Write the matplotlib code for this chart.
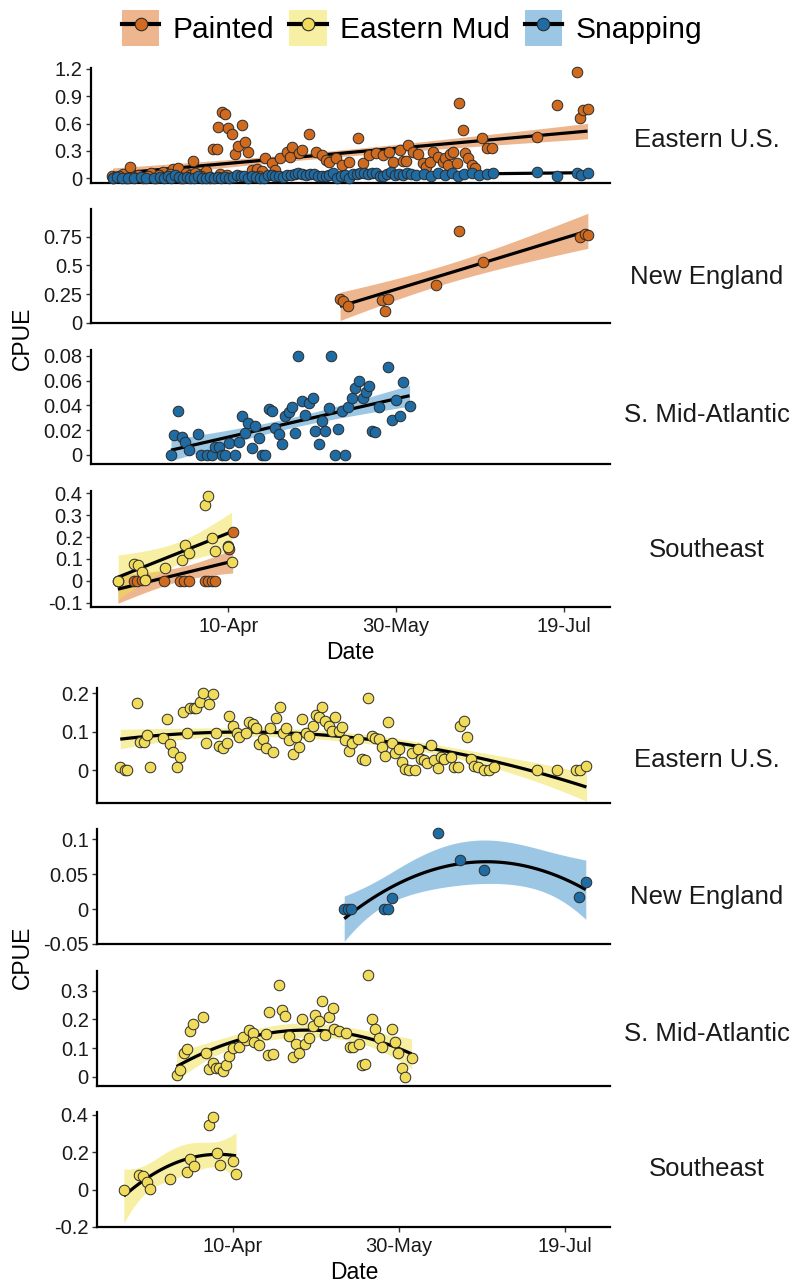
import numpy as np
import matplotlib
matplotlib.use("Agg")
import matplotlib.pyplot as plt
from matplotlib.patches import Patch
from matplotlib.lines import Line2D

plt.rcParams['font.family'] = ['Liberation Sans', 'DejaVu Sans']
plt.rcParams['axes.unicode_minus'] = False

# ---- data (day of year; 10-Apr = 100) ----
species = ['Painted', 'Eastern Mud', 'Snapping']
date_ticks = [100, 150, 200]
date_labels = ['10-Apr', '30-May', '19-Jul']

eus_painted_day = [65.5, 68.5, 70.8, 73.0, 77.0, 80.5, 83.5, 85.0, 87.5, 89.6,
                   91.0, 93.5, 95.5, 96.7, 96.9, 98.0, 99.0, 100.0, 101.0, 102.0,
                   103.0, 104.0, 105.0, 106.0, 107.0, 108.5, 110.0, 111.0, 113.0, 114.0,
                   115.5, 117.5, 118.5, 119.0, 121.0, 122.0, 124.0, 126.0, 128.0, 129.0,
                   130.0, 132.0, 134.0, 136.0, 138.7, 140.0, 142.0, 144.0, 146.0, 148.0,
                   149.0, 151.0, 152.0, 153.0, 153.6, 155.0, 156.5, 158.0, 159.0, 160.0,
                   161.0, 162.5, 164.0, 164.6, 165.5, 166.0, 167.0, 168.0, 168.8, 170.0,
                   170.5, 171.4, 172.6, 173.5, 175.6, 177.0, 178.6, 192.0, 198.0, 204.0,
                   204.8, 205.7, 207.0,
                   65.6, 66.2, 67.5, 69.5, 71.5, 74.5, 76.0, 78.5, 79.5, 81.5,
                   82.5, 84.5, 86.0, 88.5, 90.0, 92.0, 94.5, 97.5, 99.5, 109.0]
eus_painted_cpue = [0.02, 0.04, 0.12, 0.03, 0.05, 0.07, 0.10, 0.11, 0.06, 0.19,
                    0.04, 0.08, 0.32, 0.32, 0.56, 0.73, 0.70, 0.55, 0.48, 0.26,
                    0.35, 0.58, 0.40, 0.29, 0.09, 0.10, 0.08, 0.22, 0.17, 0.09,
                    0.22, 0.29, 0.23, 0.34, 0.28, 0.31, 0.48, 0.29, 0.25, 0.20,
                    0.18, 0.22, 0.14, 0.18, 0.44, 0.17, 0.25, 0.28, 0.25, 0.29,
                    0.18, 0.31, 0.19, 0.19, 0.36, 0.29, 0.26, 0.17, 0.12, 0.18,
                    0.29, 0.23, 0.18, 0.22, 0.14, 0.26, 0.29, 0.17, 0.83, 0.53,
                    0.28, 0.22, 0.14, 0.11, 0.44, 0.33, 0.33, 0.45, 0.80, 1.17,
                    0.66, 0.75, 0.76,
                    0.0, 0.01, 0.02, 0.0, 0.01, 0.0, 0.02, 0.0, 0.03, 0.01,
                    0.04, 0.02, 0.0, 0.03, 0.05, 0.02, 0.0, 0.04, 0.03, 0.02]

eus_snap_day = [65.8, 66.9, 68.3, 70.1, 72.0, 74.1, 75.4, 78.0, 79.6, 80.8,
                82.1, 83.0, 84.2, 85.3, 86.4, 87.6, 88.7, 89.9, 91.0, 92.2,
                93.3, 94.5, 95.6, 96.8, 97.9, 99.1, 100.2, 101.4, 102.5, 103.7,
                104.8, 106.0, 107.1, 108.3, 109.4, 110.6, 111.7, 112.9, 114.0, 115.2,
                116.3, 117.5, 118.6, 119.8, 120.9, 122.1, 123.2, 124.4, 125.5, 126.7,
                127.8, 129.0, 130.1, 131.3, 132.4, 133.6, 134.7, 135.9, 137.0, 138.2,
                139.3, 140.5, 141.6, 142.8, 143.9, 145.1, 146.2, 147.4, 148.5, 149.7,
                150.8, 152.0, 153.1, 154.3, 156.0, 158.2, 160.5, 162.4, 164.6, 166.5,
                168.4, 170.2, 172.5, 174.8, 177.0, 178.8, 192.0, 198.0, 204.0, 205.2,
                207.0]
eus_snap_cpue = [0.0, 0.01, 0.0, 0.005, 0.0, 0.01, 0.0, 0.0, 0.015, 0.0,
                 0.02, 0.0, 0.035, 0.01, 0.0, 0.015, 0.005, 0.0, 0.02, 0.0,
                 0.0, 0.01, 0.0, 0.007, 0.0, 0.009, 0.0, 0.01, 0.03, 0.018,
                 0.026, 0.005, 0.024, 0.014, 0.0, 0.0, 0.037, 0.035, 0.021, 0.017,
                 0.009, 0.031, 0.035, 0.039, 0.05, 0.044, 0.032, 0.042, 0.046, 0.019,
                 0.027, 0.02, 0.038, 0.06, 0.0, 0.021, 0.036, 0.0, 0.039, 0.046,
                 0.054, 0.06, 0.046, 0.051, 0.056, 0.019, 0.018, 0.039, 0.065, 0.028,
                 0.044, 0.032, 0.059, 0.04, 0.03, 0.045, 0.02, 0.05, 0.035, 0.06,
                 0.025, 0.04, 0.055, 0.03, 0.045, 0.05, 0.065, 0.025, 0.06, 0.03,
                 0.05]

ne_painted_day = [133.3, 134.2, 135.7, 145.8, 146.7, 147.6, 162.0, 168.8, 175.9, 204.8, 206.2, 207.1]
ne_painted_cpue = [0.21, 0.19, 0.15, 0.20, 0.105, 0.21, 0.33, 0.80, 0.53, 0.75, 0.77, 0.76]

sma_snap_day = [82.9, 83.9, 85.0, 86.2, 87.2, 88.2, 91.0, 92.0, 93.7, 95.1,
                96.1, 97.1, 98.1, 99.1, 100.1, 102.1, 103.1, 104.1, 105.1, 106.0,
                107.0, 108.0, 109.0, 110.0, 111.0, 112.0, 113.0, 114.0, 115.0, 116.0,
                117.0, 118.0, 119.0, 119.9, 120.9, 121.9, 122.9, 123.9, 125.2, 125.9,
                126.9, 127.9, 128.9, 129.9, 130.7, 131.8, 132.8, 133.8, 134.8, 135.8,
                136.8, 137.8, 139.0, 140.0, 141.0, 141.8, 142.8, 143.8, 144.9, 147.7,
                148.9, 150.0, 151.0, 152.0, 154.0]
sma_snap_cpue = [0.0, 0.016, 0.0355, 0.0148, 0.0107, 0.004, 0.017, 0.0, 0.0, 0.0,
                 0.0067, 0.0067, 0.0, 0.0, 0.0094, 0.0, 0.0107, 0.031, 0.0175, 0.026,
                 0.0054, 0.0236, 0.0135, 0.0, 0.0, 0.037, 0.0355, 0.0215, 0.0167, 0.0086,
                 0.031, 0.035, 0.039, 0.018, 0.080, 0.0435, 0.032, 0.0417, 0.0457, 0.0193,
                 0.0089, 0.0274, 0.0193, 0.038, 0.080, 0.0, 0.0207, 0.0355, 0.0, 0.039,
                 0.046, 0.0537, 0.060, 0.0457, 0.051, 0.0558, 0.0193, 0.0183, 0.039, 0.0707,
                 0.028, 0.0443, 0.0317, 0.059, 0.0397]

se_painted_day = [67.1, 71.8, 72.8, 74.3, 75.3, 80.8, 85.7, 86.7, 88.2, 93.2, 94.1, 95.1, 96.1, 100.0, 100.3, 101.3]
se_painted_cpue = [0.0, 0.0, 0.0, 0.005, 0.01, 0.0, 0.0, 0.0, 0.0, 0.0, 0.0, 0.0, 0.0, 0.157, 0.145, 0.223]

se_mud_day = [67.2, 71.9, 73.1, 74.2, 75.2, 81.1, 86.1, 87.2, 88.2, 93.0, 94.1, 95.2, 96.1, 100.0, 101.0]
se_mud_cpue = [0.0, 0.078, 0.072, 0.042, 0.005, 0.058, 0.096, 0.163, 0.127, 0.345, 0.388, 0.196, 0.134, 0.153, 0.085]

eus_mud_day = [66.1, 67.4, 68.1, 71.1, 72.1, 73.4, 74.1, 75.2, 79.1, 80.1,
               81.1, 82.0, 83.1, 84.2, 84.9, 86.1, 87.0, 88.2, 89.0, 90.0,
               91.0, 92.0, 93.0, 94.1, 95.1, 96.0, 97.1, 98.2, 99.0, 100.0,
               101.2, 102.0, 104.0, 105.0, 106.0, 107.0, 108.0, 109.0, 110.1, 111.1,
               112.1, 113.1, 114.1, 115.1, 116.1, 117.1, 118.1, 119.1, 120.1, 120.9,
               122.1, 123.1, 124.1, 125.1, 126.1, 126.9, 127.9, 128.9, 129.9, 130.9,
               131.9, 132.9, 133.9, 134.9, 135.9, 137.9, 139.0, 140.0, 140.7, 142.0,
               143.0, 144.0, 145.0, 146.0, 146.7, 148.0, 149.0, 150.0, 151.0, 152.0,
               153.0, 154.0, 155.0, 155.7, 156.7, 157.7, 158.7, 159.8, 160.8, 161.8,
               162.8, 163.8, 165.8, 166.8, 167.8, 168.6, 169.6, 170.6, 171.8, 172.8,
               173.8, 175.8, 177.3, 178.8, 191.7, 197.6, 203.4, 204.7, 206.6]
eus_mud_cpue = [0.009, 0.0, 0.0, 0.174, 0.074, 0.074, 0.091, 0.007, 0.084, 0.132,
                0.068, 0.046, 0.007, 0.035, 0.15, 0.097, 0.162, 0.162, 0.162, 0.176,
                0.202, 0.07, 0.171, 0.197, 0.097, 0.063, 0.058, 0.071, 0.141, 0.115,
                0.097, 0.085, 0.097, 0.124, 0.119, 0.11, 0.067, 0.081, 0.058, 0.11,
                0.046, 0.135, 0.165, 0.097, 0.11, 0.078, 0.042, 0.087, 0.061, 0.132,
                0.096, 0.089, 0.115, 0.143, 0.139, 0.163, 0.128, 0.115, 0.102, 0.137,
                0.102, 0.113, 0.078, 0.05, 0.07, 0.081, 0.029, 0.026, 0.188, 0.089,
                0.084, 0.081, 0.059, 0.037, 0.126, 0.071, 0.045, 0.054, 0.022, 0.002,
                0.0, 0.045, 0.0, 0.054, 0.028, 0.026, 0.017, 0.065, 0.026, 0.004,
                0.035, 0.028, 0.035, 0.009, 0.009, 0.115, 0.129, 0.085, 0.03, 0.01,
                0.009, 0.0, 0.0, 0.007, 0.0, 0.0, 0.0, 0.0, 0.01]

ne_snap_day = [133.6, 134.6, 135.7, 145.7, 146.7, 147.9, 161.8, 168.6, 175.6, 204.4, 206.4]
ne_snap_cpue = [0.0, 0.0, 0.0, 0.0, 0.0, 0.0157, 0.1086, 0.0704, 0.056, 0.018, 0.0394]

sma_mud_day = [83.1, 84.2, 85.2, 86.1, 87.0, 88.0, 91.0, 92.0, 93.0, 94.0,
               95.0, 96.0, 97.0, 98.0, 99.0, 100.0, 102.0, 104.0, 103.0, 105.0,
               106.0, 106.5, 108.0, 110.0, 110.5, 112.0, 111.0, 113.9, 114.9, 115.9,
               117.1, 118.1, 119.1, 120.1, 120.9, 121.9, 122.9, 124.1, 124.9, 126.1,
               126.9, 127.9, 128.9, 130.1, 130.6, 132.1, 134.2, 135.2, 136.1, 138.0,
               139.0, 140.0, 140.7, 142.0, 143.0, 144.0, 145.0, 147.9, 149.0, 149.9,
               151.0, 152.0, 153.9]
sma_mud_cpue = [0.006, 0.023, 0.081, 0.095, 0.159, 0.183, 0.209, 0.084, 0.026, 0.047,
                0.029, 0.029, 0.02, 0.041, 0.072, 0.099, 0.105, 0.128, 0.14, 0.163,
                0.154, 0.122, 0.111, 0.149, 0.076, 0.079, 0.225, 0.32, 0.233, 0.212,
                0.142, 0.068, 0.114, 0.082, 0.2, 0.114, 0.134, 0.177, 0.215, 0.194,
                0.265, 0.145, 0.207, 0.239, 0.165, 0.159, 0.151, 0.102, 0.102, 0.114,
                0.041, 0.044, 0.355, 0.2, 0.165, 0.134, 0.102, 0.165, 0.122, 0.082,
                0.029, 0.0, 0.064]

# ---- styling ----
point_col = {'Painted': '#D06A1F', 'Eastern Mud': '#F0DC5A', 'Snapping': '#1F6CA4'}
band_col = {'Painted': '#DE6E1E', 'Eastern Mud': '#EFE04A', 'Snapping': '#3A90CB'}
band_alpha = 0.5

W, H = 794, 1282
fig = plt.figure(figsize=(W / 100, H / 100), dpi=100)


def box(left, right, top, bottom):
    return [left / W, 1 - bottom / H, (right - left) / W, (bottom - top) / H]


def t975(df):
    z = 1.959964
    return (z + (z**3 + z) / (4 * df) + (5 * z**5 + 16 * z**3 + 3 * z) / (96 * df**2)
            + (3 * z**7 + 19 * z**5 + 17 * z**3 - 15 * z) / (384 * df**3))


def smooth(ax, x, y, deg, sp):
    x = np.asarray(x, float)
    y = np.asarray(y, float)
    xc = x.mean()
    X = np.vander(x - xc, deg + 1)
    beta = np.linalg.lstsq(X, y, rcond=None)[0]
    n, p = X.shape
    r = y - X @ beta
    cov = (r @ r / (n - p)) * np.linalg.inv(X.T @ X)
    xs = np.linspace(x.min(), x.max(), 100)
    Xs = np.vander(xs - xc, deg + 1)
    fit = Xs @ beta
    se = np.sqrt(np.einsum('ij,jk,ik->i', Xs, cov, Xs))
    t = t975(n - p)
    ax.fill_between(xs, fit - t * se, fit + t * se, color=band_col[sp],
                    alpha=band_alpha, lw=0, zorder=1)
    ax.plot(xs, fit, color='black', lw=2.3, zorder=2, solid_capstyle='butt')


panels = [
    # (box px, ylim, yticks, groups, degree, facet label, label y px, x labels)
    ((91, 610, 68, 183), (-0.055, 1.211), [0, 0.3, 0.6, 0.9, 1.2],
     [('Painted', eus_painted_day, eus_painted_cpue), ('Snapping', eus_snap_day, eus_snap_cpue)],
     1, 'Eastern U.S.', 147, False),
    ((91, 610, 209, 323.5), (-0.005, 0.99), [0, 0.25, 0.5, 0.75],
     [('Painted', ne_painted_day, ne_painted_cpue)], 1, 'New England', 284, False),
    ((91, 610, 350, 464), (-0.0073, 0.0846), [0, 0.02, 0.04, 0.06, 0.08],
     [('Snapping', sma_snap_day, sma_snap_cpue)], 1, 'S. Mid-Atlantic', 422, False),
    ((91, 610, 491, 607), (-0.12, 0.4105), [-0.1, 0, 0.1, 0.2, 0.3, 0.4],
     [('Painted', se_painted_day, se_painted_cpue), ('Eastern Mud', se_mud_day, se_mud_cpue)],
     1, 'Southeast', 557, True),
    ((97, 610, 688, 803), (-0.086, 0.2138), [0, 0.1, 0.2],
     [('Eastern Mud', eus_mud_day, eus_mud_cpue)], 2, 'Eastern U.S.', 767, False),
    ((97, 610, 829, 944), (-0.05, 0.1147), [-0.05, 0, 0.05, 0.1],
     [('Snapping', ne_snap_day, ne_snap_cpue)], 2, 'New England', 904, False),
    ((97, 610, 971, 1086), (-0.0325, 0.3687), [0, 0.1, 0.2, 0.3],
     [('Eastern Mud', sma_mud_day, sma_mud_cpue)], 2, 'S. Mid-Atlantic', 1041, False),
    ((97, 610, 1112, 1227), (-0.2, 0.416), [-0.2, 0, 0.2, 0.4],
     [('Eastern Mud', se_mud_day, se_mud_cpue)], 2, 'Southeast', 1176, True),
]

for (l, r, t, b), ylim, yt, groups, deg, label, ly, showx in panels:
    ax = fig.add_axes(box(l, r, t, b))
    for sp, d, c in groups:
        smooth(ax, d, c, deg, sp)
    for sp, d, c in groups:
        ax.scatter(d, c, s=58, color=point_col[sp], edgecolors='#2b2b2b',
                   linewidths=0.7, zorder=3, clip_on=False)
    ax.set_xlim(59.1, 213.7)
    ax.set_ylim(*ylim)
    ax.set_yticks(yt)
    ax.set_yticklabels(['{:g}'.format(v) for v in yt])
    for s in ['top', 'right']:
        ax.spines[s].set_visible(False)
    for s in ['left', 'bottom']:
        ax.spines[s].set_linewidth(1.6)
        ax.spines[s].set_color('black')
    ax.tick_params(axis='y', length=3.5, width=1, color='#333333', pad=2.5,
                   labelsize=14.5, labelcolor='#1a1a1a')
    if showx:
        ax.set_xticks(date_ticks)
        ax.set_xticklabels(date_labels)
        ax.tick_params(axis='x', length=3.5, width=1, color='#333333', pad=4,
                       labelsize=14.5, labelcolor='#1a1a1a')
    else:
        ax.set_xticks([])
    ax.set_facecolor('none')
    fig.text(707 / W, 1 - ly / H, label, ha='center', va='baseline',
             fontsize=18.5, color='#1a1a1a')

# axis titles
fig.text(350 / W, 1 - 659 / H, 'Date', ha='center', va='baseline', fontsize=16.5)
fig.text(354 / W, 1 - 1279 / H, 'Date', ha='center', va='baseline', fontsize=16.5)
fig.text(22 / W, 1 - 338 / H, 'CPUE', rotation=90, ha='center', va='center', fontsize=16.5)
fig.text(22 / W, 1 - 957 / H, 'CPUE', rotation=90, ha='center', va='center', fontsize=16.5)

# legend
handles = []
for sp in species:
    handles.append((Patch(facecolor=band_col[sp], alpha=band_alpha, edgecolor='none'),
                    Line2D([], [], color='black', lw=3, marker='o', ms=9,
                           mfc=point_col[sp], mec='#2b2b2b', mew=0.8)))
fig.legend(handles, species, loc='center', bbox_to_anchor=(412 / W, 1 - 28 / H),
           ncol=3, frameon=False, fontsize=21.5, handlelength=1.25, handleheight=1.45,
           handletextpad=0.45, columnspacing=0.5, borderpad=0)

fig.savefig('out.png', dpi=100)
